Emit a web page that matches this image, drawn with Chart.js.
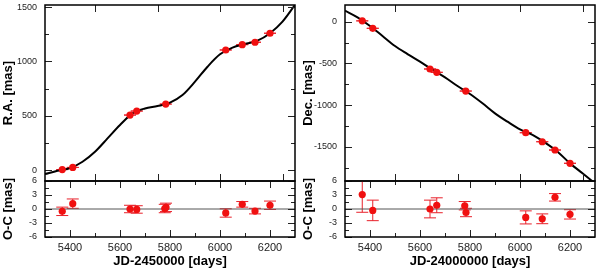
<!DOCTYPE html>
<html>
<head>
<meta charset="utf-8">
<script src="https://cdn.jsdelivr.net/npm/chart.js@4.4.0/dist/chart.umd.min.js"></script>
<style>
  body { margin: 0; background: #fff; }
  #wrap { position: relative; width: 600px; height: 270px; overflow: hidden; }
  canvas { position: absolute; }
</style>
</head>
<body>
<div id="wrap">
  <canvas id="raMain" style="left:0;top:-2px" width="300" height="190"></canvas>
  <canvas id="raRes" style="left:0;top:170px" width="300" height="100"></canvas>
  <canvas id="decMain" style="left:300px;top:-2px" width="300" height="190"></canvas>
  <canvas id="decRes" style="left:300px;top:170px" width="300" height="100"></canvas>
</div>
<script>
// x range and ticks (days)
const xMin = 5300, xMax = 6300;
const xMajor = [5400, 5600, 5800, 6000, 6200];
const xMinor = [5500, 5700, 5900, 6100];
const mainXTicks = [5500, 5750, 6000, 6250];

// model curves
const curveDays = [5300, 5350, 5400, 5450, 5500, 5550, 5600, 5650, 5700, 5750, 5800,
                   5850, 5900, 5950, 6000, 6050, 6100, 6150, 6200, 6250, 6300];
const raCurve = [-37, -6, 18, 77, 169, 292, 415, 522, 568, 590, 621,
                 691, 814, 952, 1066, 1128, 1161, 1192, 1260, 1367, 1521];
const decCurve = [132, 52, -51, -171, -291, -387, -478, -574, -666, -770, -866,
                  -977, -1097, -1197, -1289, -1356, -1448, -1556, -1696, -1815, -1935];

// observations
const obsDays = [5369, 5411, 5640, 5667, 5783, 6023, 6089, 6140, 6200];
const raObs = [5, 25, 507, 544, 608, 1106, 1155, 1177, 1260];
const decObs = [10, -79, -566, -606, -830, -1329, -1437, -1536, -1695];

// residuals (O-C) with errors
const resDays = [5369, 5411, 5640, 5667, 5779, 5784, 6023, 6089, 6140, 6200];
const raRes = [-0.5, 1.15, 0.0, -0.1, 0.1, 0.35, -0.85, 1.0, -0.45, 0.8];
const raErr = [0.9, 1.0, 0.8, 0.8, 0.9, 0.9, 0.9, 0.6, 0.6, 0.9];
const decRes = [3.1, -0.3, 0.0, 0.8, 0.7, -0.75, -1.8, -2.1, 2.5, -1.15];
const decErr = [3.8, 2.2, 1.9, 1.6, 0.9, 0.9, 1.4, 1.05, 0.8, 1.0];

// y ticks
const raTicks = [0, 500, 1000, 1500];
const raMinor = [250, 750, 1250];
const decTicks = [0, -500, -1000, -1500];
const decMinor = [-250, -750, -1250, -1750];
const resTicks = [-6, -3, 0, 3, 6];
const resMinor = [-4.5, -1.5, 1.5, 4.5];

const FONT = '"Liberation Sans", Arial, sans-serif';

// inward ticks + frame
const framePlugin = {
  id: 'frame',
  afterDatasetsDraw(chart, args, opts) {
    const { ctx, chartArea: a, scales } = chart;
    const x = scales.x, y = scales.y;
    ctx.save();
    ctx.strokeStyle = '#222';
    ctx.lineWidth = 1;
    const seg = (x1, y1, x2, y2) => { ctx.beginPath(); ctx.moveTo(x1, y1); ctx.lineTo(x2, y2); ctx.stroke(); };
    const xt = (vals, len) => vals.forEach(v => {
      const px = Math.round(x.getPixelForValue(v)) + 0.5;
      seg(px, a.bottom, px, a.bottom - len);
      seg(px, a.top, px, a.top + len);
    });
    const yt = (vals, len) => vals.forEach(v => {
      const py = Math.round(y.getPixelForValue(v)) + 0.5;
      seg(a.left, py, a.left + len, py);
      seg(a.right, py, a.right - len, py);
    });
    xt(opts.xMajor, 7); xt(opts.xMinor, 4);
    yt(opts.yMajor, 7); yt(opts.yMinor, 4);
    ctx.strokeStyle = '#000';
    ctx.lineWidth = 1.5;
    ctx.strokeRect(a.left, a.top, a.width, a.height);
    ctx.restore();
  }
};

// error bars
const errPlugin = {
  id: 'errbars',
  beforeDatasetsDraw(chart, args, opts) {
    if (!opts.days) return;
    const { ctx, chartArea: a, scales } = chart;
    ctx.save();
    ctx.beginPath();
    ctx.rect(a.left, a.top, a.width, a.height);
    ctx.clip();
    ctx.strokeStyle = '#e8202a';
    ctx.lineWidth = 1;
    opts.days.forEach((d, i) => {
      const px = scales.x.getPixelForValue(d);
      const e = opts.err ? opts.err[i] : 0;
      const top = scales.y.getPixelForValue(opts.vals[i] + e);
      const bot = scales.y.getPixelForValue(opts.vals[i] - e);
      ctx.beginPath();
      ctx.moveTo(px, top); ctx.lineTo(px, bot);
      ctx.moveTo(px - 6, top); ctx.lineTo(px + 6, top);
      ctx.moveTo(px - 6, bot); ctx.lineTo(px + 6, bot);
      ctx.stroke();
    });
    ctx.restore();
  }
};

function yScale(min, max, ticks, title) {
  return {
    min: min, max: max,
    // tickLength only offsets the labels (grid itself is hidden)
    grid: { display: false, drawTicks: true, tickLength: 8 },
    border: { display: false },
    afterBuildTicks: s => { s.ticks = ticks.map(v => ({ value: v })); },
    afterFit: s => { s.width = 45; },
    ticks: { font: { family: FONT, size: 9 }, color: '#222', padding: 0, crossAlign: 'near',
             autoSkip: false, callback: v => String(v) },
    title: { display: true, text: title, color: '#000',
             font: { family: FONT, size: 13, weight: 'bold' }, padding: { top: 1, bottom: 0 } }
  };
}

function mainChart(id, curve, obs, yMin, yMax, ticks, minor, title) {
  return new Chart(document.getElementById(id), {
    type: 'line',
    data: {
      datasets: [
        { data: obsDays.map((d, i) => ({ x: d, y: obs[i] })), showLine: false,
          pointRadius: 3.6, pointBackgroundColor: '#f01010', pointBorderWidth: 0, order: 0 },
        { data: curveDays.map((d, i) => ({ x: d, y: curve[i] })), borderColor: '#000',
          borderWidth: 2, pointRadius: 0, cubicInterpolationMode: 'monotone', order: 1 }
      ]
    },
    options: {
      responsive: false, animation: false, events: [],
      layout: { padding: { top: 7, right: 5, bottom: 7, left: 0 } },
      plugins: {
        legend: { display: false }, tooltip: { enabled: false },
        frame: { xMajor: mainXTicks, xMinor: [], yMajor: ticks, yMinor: minor },
        errbars: { days: obsDays, vals: obs }
      },
      scales: {
        x: { type: 'linear', min: xMin, max: xMax, display: false },
        y: yScale(yMin, yMax, ticks, title)
      }
    },
    plugins: [framePlugin, errPlugin]
  });
}

function resChart(id, res, err, xTitle) {
  return new Chart(document.getElementById(id), {
    type: 'line',
    data: {
      datasets: [
        { data: resDays.map((d, i) => ({ x: d, y: res[i] })), showLine: false,
          pointRadius: 3.6, pointBackgroundColor: '#f01010', pointBorderWidth: 0, order: 0 },
        { data: [{ x: xMin, y: 0 }, { x: xMax, y: 0 }], borderColor: '#555',
          borderWidth: 1, pointRadius: 0, order: 1 }
      ]
    },
    options: {
      responsive: false, animation: false, events: [],
      layout: { padding: { top: 11, right: 5, bottom: 0, left: 0 } },
      plugins: {
        legend: { display: false }, tooltip: { enabled: false },
        frame: { xMajor: xMajor, xMinor: xMinor, yMajor: resTicks, yMinor: resMinor },
        errbars: { days: resDays, vals: res, err: err }
      },
      scales: {
        x: {
          type: 'linear', min: xMin, max: xMax,
          grid: { display: false, drawTicks: false }, border: { display: false },
          afterBuildTicks: s => { s.ticks = xMajor.map(v => ({ value: v })); },
          afterFit: s => { s.height = 33; },
          ticks: { font: { family: FONT, size: 11 }, color: '#222', padding: 4, maxRotation: 0,
                   autoSkip: false, callback: v => String(v) },
          title: { display: true, text: xTitle, color: '#000',
                   font: { family: FONT, size: 13, weight: 'bold' }, padding: { top: 0, bottom: 1 } }
        },
        y: yScale(-6, 6, resTicks, 'O-C [mas]')
      }
    },
    plugins: [framePlugin, errPlugin]
  });
}

mainChart('raMain', raCurve, raObs, -100, 1520, raTicks, raMinor, 'R.A. [mas]');
resChart('raRes', raRes, raErr, 'JD-2450000 [days]');
mainChart('decMain', decCurve, decObs, -1907, 200, decTicks, decMinor, 'Dec. [mas]');
resChart('decRes', decRes, decErr, 'JD-24000000 [days]');
</script>
</body>
</html>
